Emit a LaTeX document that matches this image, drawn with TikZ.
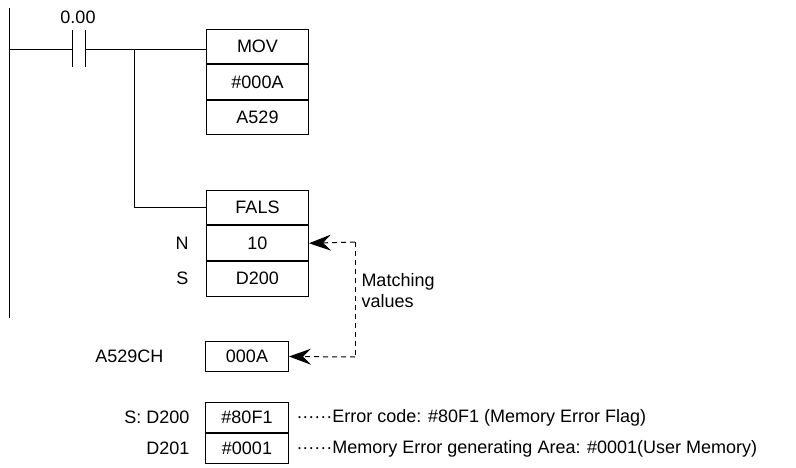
\documentclass[tikz,border=0pt]{standalone}
\usepackage{fontspec}
\setmainfont{Liberation Sans}
\usetikzlibrary{arrows.meta,positioning}

\tikzset{
  cell/.style={draw, minimum width=102pt, minimum height=34.5pt, inner sep=0pt, font=\fontsize{18}{21}\selectfont},
  mem/.style={draw, minimum width=83pt, minimum height=30pt, inner sep=0pt, font=\fontsize{18}{21}\selectfont},
  lbl/.style={font=\fontsize{18}{21}\selectfont, inner sep=1pt},
  match/.style={dashed, dash pattern=on 5pt off 4pt, -{Stealth[length=22pt,width=16pt,inset=8pt]}}
}

\begin{document}
\begin{tikzpicture}[x=1pt, y=-1pt, line width=1pt]
    \useasboundingbox (0,0) rectangle (796,468);

    % Left rail
    \draw (9,8) -- (9,318);

    % Contact
    \draw (72,30) -- (72,67);
    \draw (85,30) -- (85,67);
    \node[lbl] (addr) at (78,17) {0.00};

    % MOV instruction
    \node[cell, anchor=north west] (mov) at (206,29) {MOV};
    \node[cell, below=0pt of mov] (src) {\#000A};
    \node[cell, below=0pt of src] (dst) {A529};

    % FALS instruction
    \node[cell, anchor=north west] (fals) at (206,190) {FALS};
    \node[cell, below=0pt of fals] (num) {10};
    \node[cell, below=0pt of num] (msg) {D200};
    \node[lbl, left=16pt of num] {N};
    \node[lbl, left=16pt of msg] {S};

    % Rung wiring
    \coordinate (br) at (134,50);
    \draw (9,50) -- (72,50);
    \draw (85,50) -- (mov.west |- br);
    \draw (br) |- (fals.west);

    % A529 contents
    \node[mem, anchor=north west] (code) at (205,341) {000A};
    \node[lbl, left=40pt of code] {A529CH};

    % Matching values
    \coordinate (mt) at (355,242);
    \coordinate (mb) at (355,357);
    \draw[match] (mt) -- (num.east);
    \draw[match] (mb) -- (code.east);
    \draw[dashed, dash pattern=on 5pt off 4pt] (mt) -- (mb);
    \node[lbl, anchor=north west, align=left] at (360,272) {Matching\\values};

    % Error information
    \node[mem, anchor=north west] (err) at (205,402) {\#80F1};
    \node[mem, below=0pt of err] (area) {\#0001};
    \node[lbl, left=14pt of err] {S: D200};
    \node[lbl, left=14pt of area] {D201};
    \node[lbl, right=6pt of err] {······Error code: \#80F1 (Memory Error Flag)};
    \node[lbl, right=6pt of area] {······Memory Error generating Area: \#0001(User Memory)};

\end{tikzpicture}
\end{document}
